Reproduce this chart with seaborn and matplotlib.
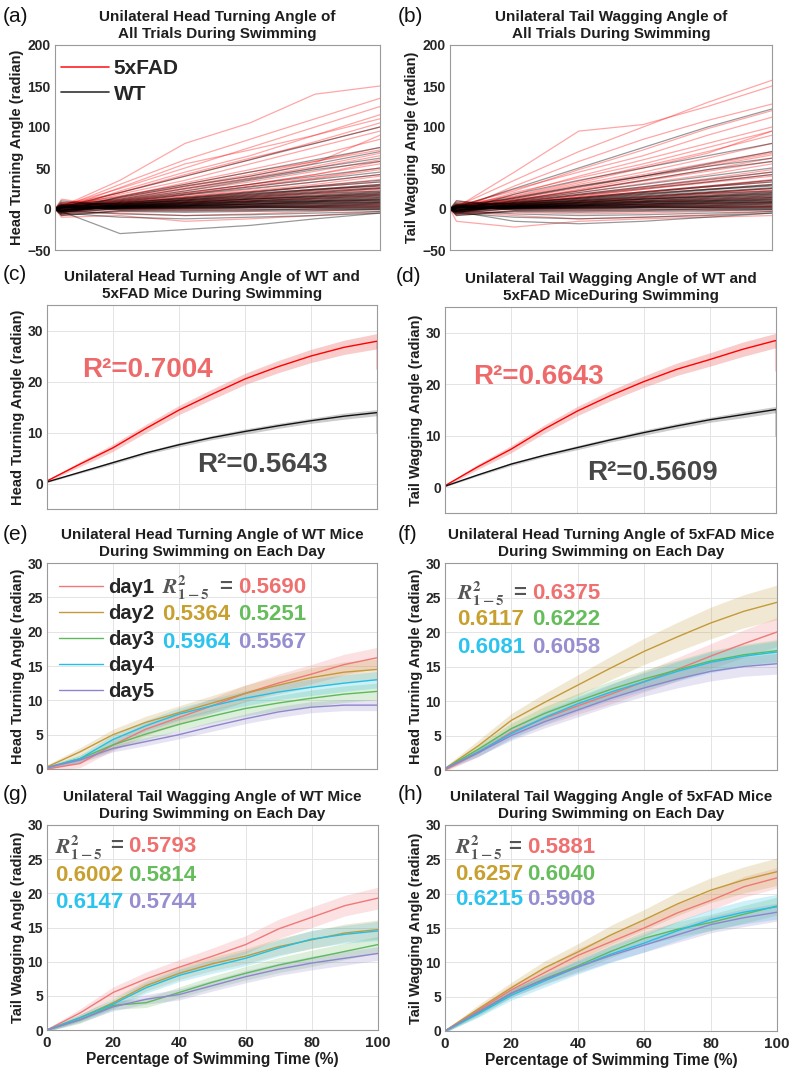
import numpy as np
import pandas as pd
import matplotlib
matplotlib.use("Agg")
import matplotlib.pyplot as plt
from matplotlib.lines import Line2D
import seaborn as sns

sns.set_theme(style="white")
plt.rcParams['font.family'] = ['Liberation Sans', 'DejaVu Sans']
plt.rcParams['font.weight'] = 'bold'
plt.rcParams['axes.titleweight'] = 'bold'
plt.rcParams['axes.labelweight'] = 'bold'
plt.rcParams['mathtext.fontset'] = 'stix'

# ---------------- data: panels (a)/(b), individual trials ----------------
x_trial = [0, 2, 20, 40, 60, 80, 100]
head_5xfad_trials = [
    [0, 3, 35, 80, 105, 140, 150], [0, 2, 30, 60, 85, 110, 135], [0, 4, 25, 50, 75, 100, 125],
    [0, -2, 22, 45, 65, 90, 115], [0, 5, 20, 40, 60, 82, 105], [0, 1, 18, 35, 55, 75, 95],
    [0, 6, 15, 32, 48, 65, 85], [0, -3, 14, 28, 42, 58, 75], [0, 2, 12, 25, 38, 52, 68],
    [0, 8, 10, 22, 33, 46, 60], [0, -4, 10, 20, 30, 42, 55], [0, 3, 8, 17, 27, 37, 48],
    [0, 0, 8, 15, 24, 33, 42], [0, 5, 6, 13, 20, 28, 36], [0, -6, 6, 12, 18, 24, 30],
    [0, 2, 5, 10, 15, 20, 25], [0, 4, 4, 8, 12, 16, 20], [0, -2, 4, 7, 10, 13, 16],
    [0, 1, 3, 5, 8, 10, 12], [0, 7, 2, 4, 6, 8, 9], [0, -5, 1, 2, 4, 5, 6],
    [0, 3, 0, 1, 2, 2, 3], [0, -8, -2, -3, -2, 0, 2], [0, -3, -5, -8, -6, -3, 0],
    [0, -10, -8, -15, -12, -8, -3], [0, 4, 5, 9, 13, 18, 22], [0, 6, 7, 14, 21, 27, 33],
    [0, -1, 3, 6, 9, 12, 14], [0, 2, 2, 3, 5, 6, 7], [0, 12, 1, 1, 2, 3, 4],
    [0, 3, 16, 30, 45, 58, 72], [0, 2, 11, 24, 36, 50, 65], [0, 5, 9, 18, 28, 38, 50],
    [0, -2, 7, 15, 22, 30, 40], [0, 1, 6, 11, 17, 23, 28], [0, 3, 4, 9, 14, 19, 24],
    [0, -4, 3, 7, 11, 15, 18], [0, 2, 2, 6, 10, 13, 17], [0, 6, 1, 3, 6, 9, 11],
    [0, -1, -1, 0, 1, 3, 5], [0, 4, 13, 27, 40, 56, 90], [0, 2, 20, 42, 62, 80, 100],
    [0, 0, 26, 55, 72, 90, 110], [0, 3, 9, 19, 30, 42, 58], [0, -2, 5, 11, 16, 22, 26],
]
head_wt_trials = [
    [0, 2, 20, 40, 60, 80, 100], [0, -3, 15, 30, 45, 60, 75], [0, 4, 12, 25, 37, 50, 62],
    [0, 1, 10, 20, 30, 40, 50], [0, -5, 8, 17, 25, 33, 42], [0, 3, 7, 14, 21, 28, 35],
    [0, 6, 6, 12, 18, 24, 30], [0, -2, 5, 10, 15, 20, 25], [0, 2, 4, 8, 12, 16, 20],
    [0, -4, 4, 7, 10, 14, 17], [0, 5, 3, 6, 9, 11, 14], [0, 1, 3, 5, 7, 9, 11],
    [0, -1, 2, 4, 6, 7, 9], [0, 3, 2, 3, 4, 5, 7], [0, -6, 1, 2, 3, 4, 5],
    [0, 2, 1, 1, 2, 2, 3], [0, -3, 0, 0, 1, 1, 1], [0, 4, -1, -1, -1, 0, 0],
    [0, -8, -3, -4, -3, -2, -1], [0, -2, -6, -8, -7, -5, -3], [0, -5, -10, -12, -10, -8, -5],
    [0, -3, -30, -25, -20, -12, -5], [0, 8, 6, 10, 14, 19, 22], [0, 2, 8, 13, 19, 24, 28],
    [0, -1, 2, 5, 8, 10, 13], [0, 10, 3, 4, 6, 8, 10], [0, 1, 1, 3, 4, 6, 8],
    [0, -4, 5, 8, 12, 15, 18], [0, 3, 2, 2, 3, 3, 4], [0, 0, 4, 6, 9, 12, 15],
    [0, 2, 9, 18, 27, 36, 45], [0, -2, 7, 13, 20, 27, 33], [0, 4, 5, 11, 16, 21, 26],
    [0, 1, 4, 9, 13, 17, 21], [0, -3, 3, 7, 10, 13, 16], [0, 2, 3, 5, 8, 10, 12],
    [0, 5, 2, 4, 5, 7, 8], [0, -1, 1, 2, 3, 4, 6], [0, 3, 0, 1, 2, 2, 2],
    [0, -7, -2, -2, -1, -1, 0], [0, 1, 11, 22, 35, 48, 58], [0, 2, 14, 28, 40, 55, 70],
    [0, -2, 6, 11, 17, 23, 29], [0, 4, 3, 8, 12, 15, 19], [0, 0, 1, 4, 6, 9, 11],
]
tail_5xfad_trials = [
    [0, 2, 45, 95, 103, 125, 150], [0, 3, 35, 70, 100, 130, 157], [0, -2, 28, 58, 85, 108, 128],
    [0, 4, 22, 48, 72, 98, 120], [0, 1, 18, 40, 60, 80, 100], [0, 5, 16, 34, 52, 70, 90],
    [0, -3, 14, 30, 45, 62, 80], [0, 2, 12, 26, 40, 54, 68], [0, 6, 11, 23, 35, 48, 62],
    [0, -4, 10, 20, 31, 42, 55], [0, 3, 9, 18, 27, 37, 48], [0, 0, 8, 16, 24, 33, 42],
    [0, 5, 7, 14, 21, 28, 36], [0, -6, 6, 12, 18, 24, 30], [0, 2, 5, 10, 15, 20, 25],
    [0, 4, 4, 8, 12, 16, 20], [0, -2, 4, 7, 10, 13, 16], [0, 1, 3, 5, 8, 10, 12],
    [0, 7, 2, 4, 6, 8, 9], [0, -5, 1, 2, 4, 5, 6], [0, 3, 0, 1, 2, 2, 3],
    [0, -8, -2, -3, -2, 0, 2], [0, -15, -22, -15, -12, -10, -8], [0, -3, -8, -12, -10, -7, -3],
    [0, 4, 5, 9, 13, 18, 22], [0, 6, 7, 14, 21, 27, 33], [0, -1, 3, 6, 9, 12, 14],
    [0, 2, 2, 3, 5, 6, 7], [0, 10, 1, 1, 2, 3, 4], [0, 3, 15, 32, 50, 68, 95],
    [0, 2, 13, 28, 42, 56, 70], [0, -2, 10, 22, 34, 46, 58], [0, 5, 8, 17, 26, 35, 45],
    [0, 1, 6, 13, 20, 27, 35], [0, -3, 5, 10, 15, 20, 25], [0, 3, 3, 7, 11, 15, 18],
    [0, -1, 2, 5, 8, 11, 14], [0, 4, 1, 3, 5, 7, 9], [0, -2, 0, 0, 1, 2, 3],
    [0, 2, 24, 45, 65, 90, 112], [0, 0, 20, 38, 55, 75, 95], [0, 3, 10, 24, 38, 52, 66],
    [0, -1, 7, 15, 24, 32, 40], [0, 2, 4, 9, 14, 19, 23], [0, -4, -4, -6, -5, -3, -1],
]
tail_wt_trials = [
    [0, 2, 25, 50, 75, 100, 122], [0, -3, 18, 35, 50, 65, 80], [0, 4, 13, 27, 40, 52, 62],
    [0, 1, 10, 20, 30, 40, 50], [0, -5, 8, 17, 25, 33, 42], [0, 3, 7, 14, 21, 28, 35],
    [0, 6, 6, 12, 18, 24, 30], [0, -2, 5, 10, 15, 20, 25], [0, 2, 4, 8, 12, 16, 20],
    [0, -4, 4, 7, 10, 14, 17], [0, 5, 3, 6, 9, 11, 14], [0, 1, 3, 5, 7, 9, 11],
    [0, -1, 2, 4, 6, 7, 9], [0, 3, 2, 3, 4, 5, 7], [0, -6, 1, 2, 3, 4, 5],
    [0, 2, 1, 1, 2, 2, 3], [0, -3, 0, 0, 1, 1, 1], [0, 4, -1, -1, -1, 0, 0],
    [0, -8, -3, -4, -3, -2, -1], [0, -2, -6, -8, -7, -5, -3], [0, -5, -10, -12, -10, -8, -5],
    [0, -3, -15, -18, -15, -10, -5], [0, 8, 6, 10, 14, 19, 22], [0, 2, 8, 13, 19, 24, 28],
    [0, -1, 2, 5, 8, 10, 13], [0, 10, 3, 4, 6, 8, 10], [0, 1, 1, 3, 4, 6, 8],
    [0, -4, 5, 8, 12, 15, 18], [0, 3, 2, 2, 3, 3, 4], [0, 0, 4, 6, 9, 12, 15],
    [0, 2, 9, 18, 27, 36, 45], [0, -2, 7, 13, 20, 27, 33], [0, 4, 5, 11, 16, 21, 26],
    [0, 1, 4, 9, 13, 17, 21], [0, -3, 3, 7, 10, 13, 16], [0, 2, 3, 5, 8, 10, 12],
    [0, 5, 2, 4, 5, 7, 8], [0, -1, 1, 2, 3, 4, 6], [0, 3, 0, 1, 2, 2, 2],
    [0, -7, -2, -2, -1, -1, 0], [0, 1, 11, 22, 35, 48, 58], [0, 2, 14, 28, 40, 55, 70],
    [0, -2, 6, 11, 17, 23, 29], [0, 4, 3, 8, 12, 15, 19], [0, 0, 1, 4, 6, 9, 11],
]

# ---------------- data: mean curves (c)-(h) ----------------
pct = [0, 10, 20, 30, 40, 50, 60, 70, 80, 90, 100]

head_5xfad_mean = [0.5, 3.8, 7.0, 10.8, 14.4, 17.5, 20.5, 22.9, 25.0, 26.7, 27.9]
head_5xfad_sd = [0.2, 0.5, 0.7, 0.8, 0.9, 1.0, 1.1, 1.2, 1.3, 1.4, 1.5]
head_wt_mean = [0.3, 2.2, 4.1, 6.0, 7.6, 9.0, 10.2, 11.3, 12.3, 13.2, 13.9]
head_wt_sd = [0.1, 0.2, 0.3, 0.3, 0.4, 0.4, 0.5, 0.5, 0.5, 0.6, 0.6]
tail_5xfad_mean = [0.3, 4.0, 7.4, 11.3, 14.8, 17.8, 20.5, 22.9, 24.8, 26.8, 28.5]
tail_5xfad_sd = [0.2, 0.5, 0.7, 0.8, 0.9, 1.0, 1.1, 1.2, 1.3, 1.4, 1.4]
tail_wt_mean = [0.2, 2.4, 4.5, 6.2, 7.7, 9.2, 10.6, 11.9, 13.1, 14.1, 15.1]
tail_wt_sd = [0.1, 0.2, 0.3, 0.3, 0.4, 0.4, 0.5, 0.5, 0.5, 0.6, 0.6]
end_drop_head = [22.5, 10.0]
end_drop_tail = [22.5, 10.0]

days = ['day1', 'day2', 'day3', 'day4', 'day5']

e_mean = [
    [0.0, 0.8, 3.5, 5.8, 7.5, 9.2, 11.0, 12.5, 13.8, 15.2, 16.2],
    [0.3, 2.5, 5.0, 6.8, 8.2, 9.6, 11.0, 12.2, 13.3, 14.1, 14.5],
    [0.2, 1.5, 3.5, 5.1, 6.5, 7.7, 8.8, 9.6, 10.3, 10.9, 11.3],
    [0.2, 1.5, 4.3, 6.3, 8.0, 9.2, 10.3, 11.2, 11.9, 12.5, 13.0],
    [0.2, 1.3, 3.0, 4.0, 5.0, 6.2, 7.3, 8.3, 9.0, 9.3, 9.3],
]
e_sd = [
    [0.2, 0.6, 0.8, 0.9, 1.0, 1.1, 1.2, 1.3, 1.4, 1.5, 1.5],
    [0.3, 0.6, 0.8, 0.9, 1.0, 1.1, 1.2, 1.3, 1.4, 1.5, 1.5],
    [0.2, 0.5, 0.7, 0.8, 0.9, 1.0, 1.1, 1.1, 1.2, 1.2, 1.2],
    [0.2, 0.5, 0.7, 0.8, 0.9, 1.0, 1.1, 1.1, 1.2, 1.2, 1.2],
    [0.2, 0.4, 0.5, 0.6, 0.6, 0.7, 0.7, 0.8, 0.8, 0.8, 0.8],
]
f_mean = [
    [0.0, 2.5, 5.5, 7.5, 9.3, 11.0, 12.8, 14.6, 16.5, 18.3, 20.0],
    [0.2, 3.5, 7.2, 9.8, 12.3, 14.8, 17.2, 19.3, 21.3, 23.0, 24.3],
    [0.2, 3.0, 6.0, 8.2, 10.0, 11.7, 13.2, 14.5, 15.8, 16.7, 17.3],
    [0.2, 2.6, 5.3, 7.6, 9.6, 11.3, 12.8, 14.3, 15.6, 16.5, 17.1],
    [0.2, 2.5, 5.0, 7.0, 8.7, 10.4, 11.9, 13.2, 14.3, 15.0, 15.4],
]
f_sd = [
    [0.2, 0.6, 0.8, 1.0, 1.2, 1.4, 1.5, 1.7, 1.8, 2.0, 2.1],
    [0.3, 0.8, 1.0, 1.3, 1.5, 1.7, 1.9, 2.1, 2.3, 2.4, 2.5],
    [0.2, 0.6, 0.8, 1.0, 1.1, 1.2, 1.3, 1.4, 1.5, 1.5, 1.6],
    [0.2, 0.6, 0.8, 1.0, 1.1, 1.2, 1.3, 1.4, 1.5, 1.5, 1.6],
    [0.2, 0.5, 0.7, 0.9, 1.0, 1.1, 1.2, 1.3, 1.4, 1.4, 1.5],
]
g_mean = [
    [0.0, 2.5, 5.5, 7.5, 9.2, 10.8, 12.5, 14.8, 16.5, 18.2, 19.3],
    [0.0, 1.8, 4.0, 6.5, 8.3, 9.7, 10.8, 12.2, 13.2, 14.2, 14.7],
    [0.0, 1.5, 3.6, 4.0, 5.5, 7.0, 8.3, 9.5, 10.5, 11.5, 12.5],
    [0.0, 1.8, 3.8, 6.2, 8.0, 9.3, 10.5, 12.0, 13.3, 14.0, 14.5],
    [0.0, 1.5, 3.4, 4.5, 5.2, 6.5, 7.8, 8.9, 9.8, 10.5, 11.2],
]
g_sd = [
    [0.2, 0.6, 0.8, 1.0, 1.1, 1.2, 1.3, 1.4, 1.5, 1.5, 1.6],
    [0.2, 0.5, 0.7, 0.8, 0.9, 1.0, 1.1, 1.2, 1.3, 1.3, 1.4],
    [0.2, 0.5, 0.6, 0.7, 0.8, 0.9, 1.0, 1.1, 1.2, 1.2, 1.2],
    [0.2, 0.5, 0.7, 0.8, 0.9, 1.0, 1.1, 1.2, 1.3, 1.3, 1.4],
    [0.2, 0.4, 0.6, 0.7, 0.8, 0.8, 0.9, 0.9, 1.0, 1.0, 1.0],
]
h_mean = [
    [0.0, 3.0, 6.0, 8.5, 11.0, 13.0, 15.0, 17.2, 19.0, 21.0, 22.3],
    [0.0, 3.2, 6.3, 9.2, 11.5, 14.0, 16.2, 18.5, 20.5, 22.0, 23.2],
    [0.0, 2.6, 5.5, 7.6, 9.5, 11.6, 13.5, 14.8, 15.8, 17.0, 18.2],
    [0.0, 2.5, 5.2, 7.3, 9.3, 11.2, 12.8, 14.6, 16.2, 17.3, 18.1],
    [0.0, 2.8, 5.5, 7.5, 9.3, 11.0, 12.5, 14.0, 15.5, 16.5, 17.3],
]
h_sd = [
    [0.2, 0.5, 0.7, 0.8, 1.0, 1.1, 1.2, 1.3, 1.4, 1.5, 1.5],
    [0.2, 0.6, 0.8, 1.0, 1.2, 1.4, 1.5, 1.7, 1.8, 1.9, 2.0],
    [0.2, 0.5, 0.6, 0.7, 0.8, 0.9, 1.0, 1.1, 1.2, 1.3, 1.3],
    [0.2, 0.5, 0.7, 0.9, 1.0, 1.2, 1.3, 1.4, 1.5, 1.7, 1.8],
    [0.2, 0.5, 0.6, 0.7, 0.8, 0.9, 1.0, 1.1, 1.2, 1.3, 1.3],
]
r2_e = ['0.5690', '0.5364', '0.5251', '0.5964', '0.5567']
r2_f = ['0.6375', '0.6117', '0.6222', '0.6081', '0.6058']
r2_g = ['0.5793', '0.6002', '0.5814', '0.6147', '0.5744']
r2_h = ['0.5881', '0.6257', '0.6040', '0.6215', '0.5908']

# ---------------- styling ----------------
day_colors = ['#f07878', '#c39a38', '#5cba5c', '#22bfe6', '#8f85cc']
text_day_colors = ['#f07070', '#c8a030', '#66bd5c', '#2cc4ee', '#968ed0']
red_txt = '#ee6a6a'
gray_txt = '#474747'
spine_c = '#9a9a9a'
tick_c = '#1e1e1e'

W, H = 789, 1077
fig = plt.figure(figsize=(W / 100, H / 100), dpi=100)


def add_ax(x0, y0, x1, y1):
    return fig.add_axes([x0 / W, 1 - y1 / H, (x1 - x0) / W, (y1 - y0) / H])


def style(ax, ylim, yticks, ylabel, title, grid=True, xlabels=False):
    ax.set_xlim(0, 100)
    ax.set_ylim(*ylim)
    ax.set_yticks(yticks)
    ax.set_xticks([0, 20, 40, 60, 80, 100])
    for s in ax.spines.values():
        s.set_color(spine_c)
        s.set_linewidth(0.8)
    ax.tick_params(direction='in', length=3, width=0.6, color=spine_c,
                   labelcolor='#262626', labelsize=10, pad=3)
    if xlabels:
        ax.tick_params(axis='x', labelsize=11, pad=4)
        ax.set_xlabel('Percentage of Swimming Time (%)', fontsize=11.2, color=tick_c, labelpad=2)
    else:
        ax.set_xticklabels([])
        ax.set_xlabel('')
    ax.set_ylabel(ylabel, fontsize=10.5, color=tick_c, labelpad=2)
    ax.set_title(title, fontsize=11, color=tick_c, pad=5, linespacing=1.25)
    if grid:
        ax.grid(True, color='#e4e4e4', linewidth=0.7)
    else:
        ax.grid(False)
    ax.set_axisbelow(True)


def panel_label(txt, x, y):
    fig.text(x / W, 1 - y / H, txt, fontsize=15, fontweight='normal',
             color='#111111', ha='left', va='center')


# ---------------- (a), (b) ----------------
def trials_df(red, black):
    rows = []
    for i, tr in enumerate(red):
        for xv, yv in zip(x_trial, tr):
            rows.append(('5xFAD', f'r{i}', xv, yv))
    for i, tr in enumerate(black):
        for xv, yv in zip(x_trial, tr):
            rows.append(('WT', f'b{i}', xv, yv))
    return pd.DataFrame(rows, columns=['group', 'trial', 'pct', 'angle'])


for (x0, x1, red, black, ylab, title, lab, lx) in [
    (55, 380, head_5xfad_trials, head_wt_trials, 'Head Turning Angle (radian)',
     'Unilateral Head Turning Angle of\nAll Trials During Swimming', '(a)', 3),
    (450, 772, tail_5xfad_trials, tail_wt_trials, 'Tail Wagging Angle (radian)',
     'Unilateral Tail Wagging Angle of\nAll Trials During Swimming', '(b)', 398),
]:
    ax = add_ax(x0, 45, x1, 250)
    df = trials_df(red, black)
    sns.lineplot(data=df[df.group == '5xFAD'], x='pct', y='angle', units='trial',
                 estimator=None, color='#ff0000', alpha=0.35, lw=0.9, ax=ax, legend=False)
    sns.lineplot(data=df[df.group == 'WT'], x='pct', y='angle', units='trial',
                 estimator=None, color='#000000', alpha=0.4, lw=0.9, ax=ax, legend=False)
    style(ax, (-50, 200), [-50, 0, 50, 100, 150, 200], ylab, title, grid=False)
    panel_label(lab, lx, 16)
    if lab == '(a)':
        handles = [Line2D([], [], color='#ff2020', lw=1.2), Line2D([], [], color='#333333', lw=1.2)]
        ax.legend(handles, ['5xFAD', 'WT'], loc='upper left', bbox_to_anchor=(0.02, 0.93),
                  frameon=False, fontsize=15, handlelength=2.3, handletextpad=0.2,
                  labelspacing=0.3, borderpad=0, borderaxespad=0)


# ---------------- (c), (d) ----------------
def group_df(mr, mb):
    rows = [('5xFAD', p, v) for p, v in zip(pct, mr)] + [('WT', p, v) for p, v in zip(pct, mb)]
    return pd.DataFrame(rows, columns=['group', 'pct', 'angle'])


for (x0, y0, x1, y1, mr, sr, mb, sb, drop, ylab, title, lab, lx, ly, rr, rg, pr, pg) in [
    (47, 305, 377, 509, head_5xfad_mean, head_5xfad_sd, head_wt_mean, head_wt_sd,
     end_drop_head, 'Head Turning Angle (radian)',
     'Unilateral Head Turning Angle of WT and\n5xFAD Mice During Swimming', '(c)', 3, 275,
     'R²=0.7004', 'R²=0.5643', (0.105, 0.68), (0.455, 0.215)),
    (445, 307, 776, 513, tail_5xfad_mean, tail_5xfad_sd, tail_wt_mean, tail_wt_sd,
     end_drop_tail, 'Tail Wagging Angle (radian)',
     'Unilateral Tail Wagging Angle of WT and\n5xFAD MiceDuring Swimming',
     '(d)', 396, 277, 'R²=0.6643', 'R²=0.5609', (0.085, 0.66), (0.43, 0.195)),
]:
    ax = add_ax(x0, y0, x1, y1)
    mr_a, sr_a, mb_a, sb_a = map(np.asarray, (mr, sr, mb, sb))
    ax.fill_between(pct, mr_a - sr_a, mr_a + sr_a, color='#f08080', alpha=0.4, lw=0)
    ax.fill_between(pct, mb_a - sb_a, mb_a + sb_a, color='#808080', alpha=0.4, lw=0)
    df = group_df(mr, mb)
    sns.lineplot(data=df, x='pct', y='angle', hue='group',
                 palette={'5xFAD': '#ff0000', 'WT': '#111111'}, estimator=None,
                 lw=1.0, ax=ax, legend=False)
    ax.vlines(100, drop[0], mr[-1], color='#ff0000', lw=1.0)
    ax.vlines(100, drop[1], mb[-1], color='#111111', lw=1.0)
    style(ax, (-5, 35), [0, 10, 20, 30], ylab, title)
    ax.text(pr[0], pr[1], rr, transform=ax.transAxes, fontsize=20, color=red_txt,
            ha='left', va='center')
    ax.text(pg[0], pg[1], rg, transform=ax.transAxes, fontsize=20, color=gray_txt,
            ha='left', va='center')
    panel_label(lab, lx, ly)


# ---------------- (e)-(h) ----------------
def day_df(means):
    rows = []
    for d, m in zip(days, means):
        for p, v in zip(pct, m):
            rows.append((d, p, v))
    return pd.DataFrame(rows, columns=['day', 'pct', 'angle'])


panels = [
    (47, 563, 377, 769, e_mean, e_sd, r2_e, 'Head Turning Angle (radian)',
     'Unilateral Head Turning Angle of WT Mice\nDuring Swimming on Each Day', '(e)', 3, 534,
     (0.35, 0.578), (0.883, 0.748, 0.612), False, True),
    (445, 563, 777, 770, f_mean, f_sd, r2_f, 'Head Turning Angle (radian)',
     'Unilateral Head Turning Angle of 5xFAD Mice\nDuring Swimming on Each Day', '(f)', 398, 534,
     (0.036, 0.262), (0.855, 0.725, 0.594), False, False),
    (47, 825, 378, 1030, g_mean, g_sd, r2_g, 'Tail Wagging Angle (radian)',
     'Unilateral Tail Wagging Angle of WT Mice\nDuring Swimming on Each Day', '(g)', 3, 794,
     (0.025, 0.245), (0.893, 0.756, 0.624), True, False),
    (445, 825, 777, 1031, h_mean, h_sd, r2_h, 'Tail Wagging Angle (radian)',
     'Unilateral Tail Wagging Angle of 5xFAD Mice\nDuring Swimming on Each Day', '(h)', 398, 794,
     (0.03, 0.247), (0.893, 0.762, 0.636), True, False),
]

for (x0, y0, x1, y1, means, sds, r2, ylab, title, lab, lx, ly, xs, ys, xlab, leg) in panels:
    ax = add_ax(x0, y0, x1, y1)
    for c, m, s in zip(day_colors, means, sds):
        m_a, s_a = np.asarray(m), np.asarray(s)
        ax.fill_between(pct, m_a - s_a, m_a + s_a, color=c, alpha=0.22, lw=0)
    sns.lineplot(data=day_df(means), x='pct', y='angle', hue='day',
                 palette=dict(zip(days, day_colors)), estimator=None, lw=1.0,
                 ax=ax, legend=False)
    style(ax, (0, 30), [0, 5, 10, 15, 20, 25, 30], ylab, title, xlabels=xlab)
    # R^2 annotation
    ax.text(xs[0], ys[0], r'$\mathbfit{R}^{\mathbf{2}}_{\mathbf{1-5}}$', transform=ax.transAxes,
            fontsize=15.5, color='#555555', ha='left', va='center')
    ax.text(xs[1] - 0.036, ys[0], '=', transform=ax.transAxes, fontsize=16,
            color='#555555', ha='center', va='center')
    kw = dict(transform=ax.transAxes, fontsize=16, ha='left', va='center')
    ax.text(xs[1], ys[0], r2[0], color=text_day_colors[0], **kw)
    ax.text(xs[0], ys[1], r2[1], color=text_day_colors[1], **kw)
    ax.text(xs[1], ys[1], r2[2], color=text_day_colors[2], **kw)
    ax.text(xs[0], ys[2], r2[3], color=text_day_colors[3], **kw)
    ax.text(xs[1], ys[2], r2[4], color=text_day_colors[4], **kw)
    if leg:
        handles = [Line2D([], [], color=c, lw=1.0) for c in day_colors]
        ax.legend(handles, days, loc='upper left', bbox_to_anchor=(0.035, 0.925),
                  frameon=False, fontsize=14.5, handlelength=2.2, handletextpad=0.25,
                  labelspacing=0.34, borderpad=0, borderaxespad=0)
    panel_label(lab, lx, ly)

fig.savefig('out.png', dpi=100)
